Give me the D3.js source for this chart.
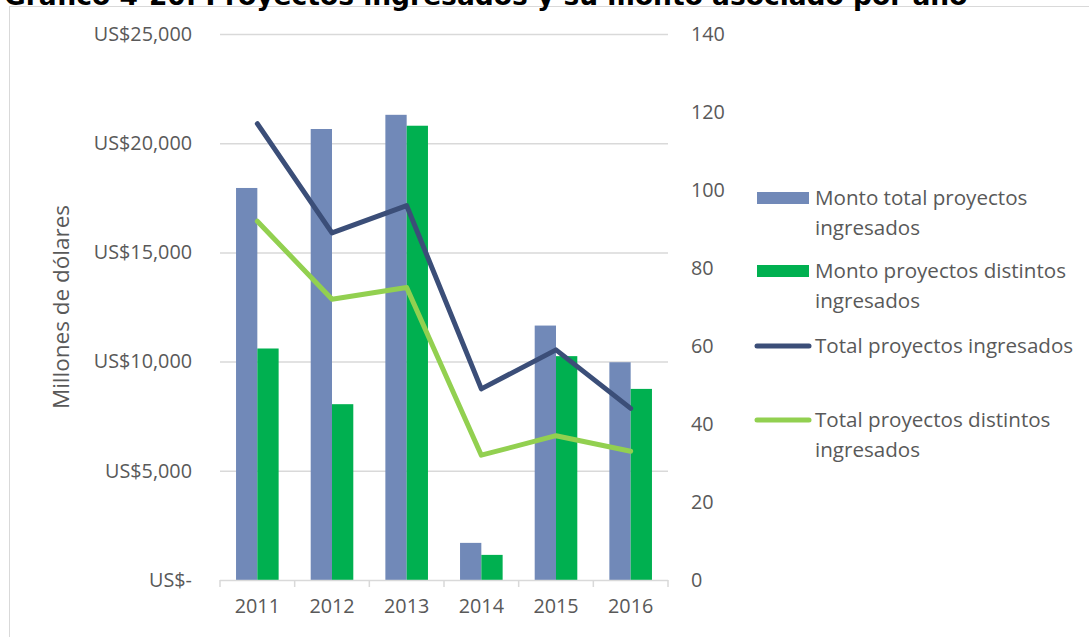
<!DOCTYPE html>
<html><head><meta charset="utf-8">
<script src="https://cdn.jsdelivr.net/npm/d3@7"></script>
<style>body{margin:0;background:#fff;overflow:hidden}svg{display:block}</style>
</head><body>
<script>
const years = ["2011","2012","2013","2014","2015","2016"];
const montoTotal = [17950, 20650, 21300, 1700, 11650, 9970];
const montoDistintos = [10600, 8050, 20800, 1150, 10250, 8750];
const totalProyectos = [117, 89, 96, 49, 59, 44];
const totalDistintos = [92, 72, 75, 32, 37, 33];
const leftTicks = [0, 5000, 10000, 15000, 20000, 25000];
const rightTicks = [0, 20, 40, 60, 80, 100, 120, 140];
const title = "Gráfico 4-20: Proyectos ingresados y su monto asociado por año";

const W=1089,H=637;
const svg=d3.select("body").append("svg").attr("width",W).attr("height",H);
const font="'Open Sans', sans-serif", txt="#595959";
const colors={blue:"#7189B8",green:"#00B050",navy:"#3B4E78",lime:"#92D050"};

// frame
svg.append("rect").attr("x",9.5).attr("y",6.5).attr("width",W+20).attr("height",H+20).attr("fill","none").attr("stroke","#D9D9D9");
svg.append("text").attr("x",4).attr("y",5).attr("font-family","'DejaVu Sans', sans-serif").attr("font-weight","bold").attr("font-size",26.5).attr("fill","#000").text(title);

const L=220,R=668,T=34,B=580;
const x=d3.scaleBand().domain(years).range([L,R]);
const y=d3.scaleLinear().domain([0,25000]).range([B,T]);
const y2=d3.scaleLinear().domain([0,140]).range([B,T]);
const bw=21.3;
const fs=19.8;

// gridlines
svg.append("g").selectAll("line").data(leftTicks.filter(d=>d>0)).join("line")
 .attr("x1",L).attr("x2",R).attr("y1",d=>y(d)+0.5).attr("y2",d=>y(d)+0.5).attr("stroke","#D9D9D9").attr("stroke-width",1.5);

// left axis labels
const fmt=d=>d===0?"US$-":"US$"+d3.format(",")(d);
const ax=svg.append("g").attr("transform",`translate(${L},0)`).call(d3.axisLeft(y).tickValues(leftTicks).tickFormat(fmt).tickSize(0).tickPadding(28));
ax.select(".domain").remove();
ax.selectAll("text").attr("font-family",font).attr("font-size",fs).attr("fill",txt);
// right axis labels
const ax2=svg.append("g").attr("transform",`translate(${R},0)`).call(d3.axisRight(y2).tickValues(rightTicks).tickSize(0).tickPadding(23));
ax2.select(".domain").remove();
ax2.selectAll("text").attr("font-family",font).attr("font-size",fs).attr("fill",txt);

// bars
const g=svg.append("g");
g.selectAll(".b1").data(years).join("rect").attr("x",d=>x(d)+x.bandwidth()/2-bw).attr("width",bw)
 .attr("y",(d,i)=>y(montoTotal[i])).attr("height",(d,i)=>B-y(montoTotal[i])).attr("fill",colors.blue);
g.selectAll(".b2").data(years).join("rect").attr("x",d=>x(d)+x.bandwidth()/2).attr("width",bw)
 .attr("y",(d,i)=>y(montoDistintos[i])).attr("height",(d,i)=>B-y(montoDistintos[i])).attr("fill",colors.green);

// x axis
const xa=svg.append("g").attr("transform",`translate(0,${B})`).call(d3.axisBottom(x).tickSize(0).tickPadding(19));
xa.select(".domain").remove();
xa.selectAll("text").attr("font-family",font).attr("font-size",fs).attr("fill",txt);
svg.append("line").attr("x1",L).attr("x2",R).attr("y1",B+0.5).attr("y2",B+0.5).attr("stroke","#D9D9D9").attr("stroke-width",1.5);
const bounds=years.map(d=>x(d)).concat([R]);
svg.append("g").selectAll("line").data(bounds).join("line").attr("x1",d=>d).attr("x2",d=>d).attr("y1",B).attr("y2",B+7).attr("stroke","#D9D9D9").attr("stroke-width",1.5);

// lines
const line=d3.line().x(d=>x(d[0])+x.bandwidth()/2).y(d=>y2(d[1]));
svg.append("path").datum(years.map((d,i)=>[d,totalProyectos[i]])).attr("d",line).attr("fill","none").attr("stroke",colors.navy).attr("stroke-width",5).attr("stroke-linecap","round").attr("stroke-linejoin","round");
svg.append("path").datum(years.map((d,i)=>[d,totalDistintos[i]])).attr("d",line).attr("fill","none").attr("stroke",colors.lime).attr("stroke-width",5).attr("stroke-linecap","round").attr("stroke-linejoin","round");

// y label
svg.append("text").attr("transform","translate(69,307) rotate(-90)").attr("text-anchor","middle").attr("font-family",font).attr("font-size",22.5).attr("fill",txt).text("Millones de dólares");

// legend
const leg=[
 {type:"rect",color:colors.blue,y:198,lines:["Monto total proyectos","ingresados"]},
 {type:"rect",color:colors.green,y:271,lines:["Monto proyectos distintos","ingresados"]},
 {type:"line",color:colors.navy,y:346,lines:["Total proyectos ingresados"]},
 {type:"line",color:colors.lime,y:420,lines:["Total proyectos distintos","ingresados"]}
];
leg.forEach(l=>{
 if(l.type==="rect") svg.append("rect").attr("x",757).attr("y",l.y-6).attr("width",52).attr("height",12).attr("fill",l.color);
 else svg.append("line").attr("x1",757).attr("x2",809).attr("y1",l.y).attr("y2",l.y).attr("stroke",l.color).attr("stroke-width",5).attr("stroke-linecap","round");
 l.lines.forEach((t,j)=>svg.append("text").attr("x",815).attr("y",l.y+j*30).attr("dy","0.35em").attr("font-family",font).attr("font-size",20.6).attr("fill",txt).text(t));
});
</script>
</body></html>
